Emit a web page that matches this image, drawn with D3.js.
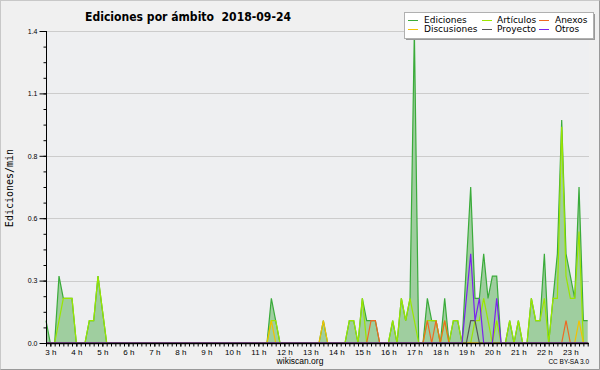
<!DOCTYPE html>
<html>
<head>
<meta charset="utf-8">
<title>Ediciones por ámbito</title>
<script src="https://cdnjs.cloudflare.com/ajax/libs/d3/7.8.5/d3.min.js"></script>
<style>
body { margin: 0; background: #f0f0f0; }
text { font-family: "DejaVu Sans", sans-serif; fill: #000; }
.title { font-weight: bold; font-size: 12px; white-space: pre; }
.legend text { font-size: 9px; }
.ylabel { font-family: "DejaVu Sans Mono", monospace; font-size: 10px; }
.axis text { font-family: "Liberation Sans", sans-serif; }
.axis path, .axis line { stroke: #000; }
.grid line { stroke: #cccccc; }
.foot { font-family: "Liberation Sans", sans-serif; }
</style>
</head>
<body>
<svg id="viz" width="600" height="370"></svg>
<script>

// 10 minute samples, first one at 2:50 (minutes since midnight)
var startMinute = 170;
var stepMinute = 10;

var ediciones = [
  0.1,0,0,0.3,0.2,0.2,0.2,0,0,0,
  0.1,0.1,0.3,0.15,0,0,0,0,0,0,
  0,0,0,0,0,0,0,0,0,0,
  0,0,0,0,0,0,0,0,0,0,
  0,0,0,0,0,0,0,0,0,0,
  0,0,0.2,0.1,0,0,0,0,0,0,
  0,0,0,0,0.1,0,0,0,0,0,
  0.1,0.1,0,0.2,0.1,0.1,0.1,0,0,0,
  0.1,0,0.2,0.1,0.2,1.4,0,0,0.2,0.1,
  0.1,0,0.2,0,0.1,0.1,0,0.35,0.7,0.2,
  0.2,0.4,0.2,0.3,0.3,0,0,0.1,0,0.1,
  0,0,0.2,0.1,0.1,0.4,0,0.2,0.4,1.0,
  0.4,0.3,0.2,0.7,0.1,0.1
];

var articulos = [
  0,0,0,0.1,0.2,0.2,0.2,0,0,0,
  0.1,0.1,0.3,0.15,0,0,0,0,0,0,
  0,0,0,0,0,0,0,0,0,0,
  0,0,0,0,0,0,0,0,0,0,
  0,0,0,0,0,0,0,0,0,0,
  0,0,0.1,0.1,0,0,0,0,0,0,
  0,0,0,0,0,0,0,0,0,0,
  0.1,0.1,0,0.2,0,0,0,0,0,0,
  0.1,0,0.2,0.1,0.2,0.1,0,0,0.1,0.1,
  0.1,0,0.1,0,0.1,0.1,0,0,0,0.1,
  0.1,0.2,0.1,0,0.1,0,0,0.1,0,0.1,
  0,0,0.2,0.1,0.1,0.2,0,0.2,0.2,0.97,
  0.3,0.2,0.2,0.5,0,0
];

var anexos = [
  0,0,0,0,0,0,0,0,0,0,
  0,0,0,0,0,0,0,0,0,0,
  0,0,0,0,0,0,0,0,0,0,
  0,0,0,0,0,0,0,0,0,0,
  0,0,0,0,0,0,0,0,0,0,
  0,0,0,0,0,0,0,0,0,0,
  0,0,0,0,0,0,0,0,0,0,
  0,0,0,0,0,0.1,0.1,0,0,0,
  0,0,0,0,0,0,0,0,0.1,0,
  0.1,0,0.1,0,0,0,0,0,0,0,
  0,0,0,0,0,0,0,0,0,0,
  0,0,0,0,0,0,0,0,0,0,
  0.1,0,0,0,0,0
];

var discusiones = [
  0,0,0,0,0,0,0,0,0,0,
  0,0,0,0,0,0,0,0,0,0,
  0,0,0,0,0,0,0,0,0,0,
  0,0,0,0,0,0,0,0,0,0,
  0,0,0,0,0,0,0,0,0,0,
  0,0,0.1,0,0,0,0,0,0,0,
  0,0,0,0,0.1,0,0,0,0,0,
  0,0,0,0,0,0,0,0,0,0,
  0,0,0,0,0,0,0,0,0,0,
  0,0,0,0,0,0,0,0,0,0,
  0,0,0,0,0,0,0,0,0,0,
  0,0,0,0,0,0,0,0,0,0,
  0,0,0,0.1,0,0
];

var proyecto = [
  0,0,0,0,0,0,0,0,0,0,
  0,0,0,0,0,0,0,0,0,0,
  0,0,0,0,0,0,0,0,0,0,
  0,0,0,0,0,0,0,0,0,0,
  0,0,0,0,0,0,0,0,0,0,
  0,0,0,0,0,0,0,0,0,0,
  0,0,0,0,0,0,0,0,0,0,
  0,0,0,0,0,0,0,0,0,0,
  0,0,0,0,0,0,0,0,0,0,
  0,0,0,0,0,0,0,0,0.1,0.1,
  0,0,0,0,0,0,0,0,0,0,
  0,0,0,0,0,0,0,0,0,0,
  0,0,0,0,0,0
];

var otros = [
  0,0,0,0,0,0,0,0,0,0,
  0,0,0,0,0,0,0,0,0,0,
  0,0,0,0,0,0,0,0,0,0,
  0,0,0,0,0,0,0,0,0,0,
  0,0,0,0,0,0,0,0,0,0,
  0,0,0,0,0,0,0,0,0,0,
  0,0,0,0,0,0,0,0,0,0,
  0,0,0,0,0,0,0,0,0,0,
  0,0,0,0,0,0,0,0,0,0,
  0,0,0,0,0,0,0,0.2,0.4,0.1,
  0.2,0,0,0,0.2,0,0,0,0,0,
  0,0,0,0,0,0,0,0,0,0,
  0,0,0,0,0,0
];

var seriesNames = ["Ediciones", "Artículos", "Anexos", "Discusiones", "Proyecto", "Otros"];
var seriesColors = ["#3aab3a", "#9be600", "#ee6a22", "#f2c200", "#555555", "#7a22ee"];

var hourTicks = [180,240,300,360,420,480,540,600,660,720,780,840,900,960,1020,1080,1140,1200,1260,1320,1380];
var yTicks = [0, 0.28, 0.56, 0.84, 1.12, 1.4];


window.addEventListener("load", run);

function run () {

    var svg = d3.select("#viz");

    // frame
    svg.append("rect").attr("x",0.5).attr("y",0.5).attr("width",599).attr("height",369)
        .attr("fill","#f0f0f0").attr("stroke","#c8c8c8");
    svg.append("path").attr("d","M599.5,0.5V369.5H0.5").attr("fill","none").attr("stroke","#999");

    var x = d3.scaleLinear().domain([170, 1423]).range([46, 589]);
    var y = d3.scaleLinear().domain([0, 1.4]).range([343, 31]);

    svg.append("rect").attr("x",46).attr("y",31).attr("width",543).attr("height",312).attr("fill","#eeeff1");

    // grid
    svg.append("g").attr("class","grid").selectAll("line")
        .data(yTicks.slice(1)).enter().append("line")
        .attr("x1",46).attr("x2",589)
        .attr("y1",function(d) { return Math.round(y(d))+0.5; })
        .attr("y2",function(d) { return Math.round(y(d))+0.5; });

    var idx = function(d,i) { return x(startMinute + i*stepMinute); };

    var area = d3.area().x(idx).y0(y(0)).y1(function(d) { return y(d); });
    var line = d3.line().x(idx).y(function(d) { return y(d); });

    svg.append("path").datum(ediciones).attr("d",area).attr("fill","#9fce9f");

    var all = [ediciones, articulos, anexos, discusiones, proyecto, otros];
    all.forEach(function(s,k) {
        svg.append("path").datum(s).attr("d",line)
            .attr("fill","none").attr("stroke",seriesColors[k]).attr("stroke-width",1.2)
            .attr("stroke-linejoin","miter");
    });

    // axes
    var yAxis = d3.axisLeft(y).tickValues(yTicks).tickSize(7).tickPadding(2)
        .tickFormat(d3.format(".1f"));
    var yMinor = d3.axisLeft(y).tickValues(d3.range(0, 1.41, 0.07)).tickSize(3).tickFormat("");
    svg.append("g").attr("class","axis").attr("transform","translate(46.5,0)").call(yMinor)
        .select(".domain").remove();
    var gy = svg.append("g").attr("class","axis").attr("transform","translate(46.5,0)").call(yAxis);
    gy.selectAll("text").style("font-size","7px");
    gy.select(".domain").attr("d","M0,31V343");

    var xAxis = d3.axisBottom(x).tickValues(hourTicks).tickSize(3).tickPadding(3)
        .tickFormat(function(d) { return (d/60)+" h"; });
    var xMinor = d3.axisBottom(x).tickValues(d3.range(170, 1423, 10)).tickSize(3).tickFormat("");
    svg.append("g").attr("class","axis").attr("transform","translate(0,343.5)").call(xMinor)
        .select(".domain").remove();
    var gx = svg.append("g").attr("class","axis").attr("transform","translate(0,343.5)").call(xAxis);
    gx.selectAll("text").style("font-size","8px");
    gx.select(".domain").attr("d","M46,0H589").attr("stroke-width",1.5);

    // titles
    svg.append("text").attr("class","title").attr("x",85).attr("y",21)
        .attr("textLength",206).attr("lengthAdjust","spacingAndGlyphs")
        .text("Ediciones por ámbito  2018-09-24");

    svg.append("text").attr("class","ylabel")
        .attr("transform","translate(13,188) rotate(-90)")
        .style("text-anchor","middle").text("Ediciones/min");

    svg.append("text").attr("class","foot").attr("x",300).attr("y",364)
        .style("text-anchor","middle").style("font-size","8.5px").text("wikiscan.org");
    svg.append("text").attr("class","foot").attr("x",589).attr("y",364)
        .style("text-anchor","end").style("font-size","6.5px").text("CC BY-SA 3.0");

    // legend: row 1 Ediciones, Artículos, Anexos; row 2 Discusiones, Proyecto, Otros
    var lg = svg.append("g").attr("class","legend");
    lg.append("rect").attr("x",406).attr("y",14).attr("width",189).attr("height",26).attr("fill","#999");
    lg.append("rect").attr("x",404.5).attr("y",12.5).attr("width",189).attr("height",26)
        .attr("fill","#fff").attr("stroke","#b0b0b0");

    var colX = [408, 482, 539];
    var rowY = [20, 29];
    var items = lg.selectAll("g.item").data(seriesNames).enter().append("g").attr("class","item")
        .attr("transform",function(d,i) {
            return "translate("+colX[i%3]+","+rowY[Math.floor(i/3)]+")";
        });
    items.append("line").attr("x1",0).attr("x2",10).attr("y1",0.5).attr("y2",0.5)
        .attr("stroke",function(d,i) { return seriesColors[i]; });
    items.append("text").attr("x",function(d,i) { return [16,15,16][i%3]; }).attr("dy","0.35em")
        .text(function(d) { return d; });
}

</script>
</body>
</html>
